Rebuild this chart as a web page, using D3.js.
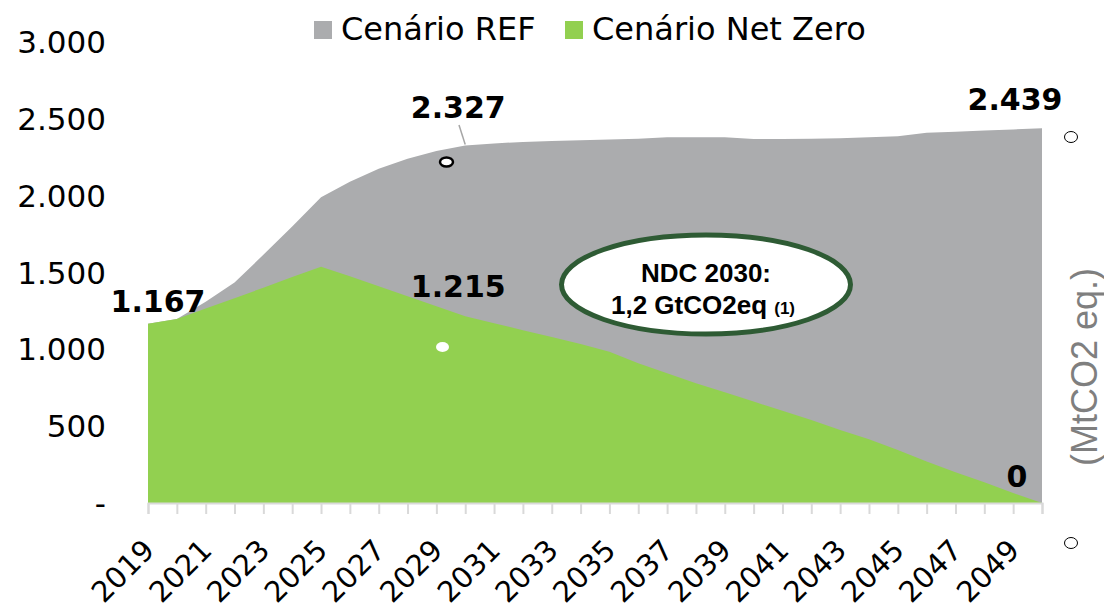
<!DOCTYPE html>
<html>
<head>
<meta charset="utf-8">
<script src="https://cdn.jsdelivr.net/npm/d3@7"></script>
<style>
	body { margin: 0; background: #fff; }
	svg { font-family: 'DejaVu Sans', Verdana, sans-serif; }
</style>
</head>
<body>
<svg id="chart" width="1104" height="604"></svg>
<script>
'use strict';

const years = [2019, 2020, 2021, 2022, 2023, 2024, 2025, 2026, 2027, 2028, 2029, 2030, 2031, 2032, 2033, 2034,
	2035, 2036, 2037, 2038, 2039, 2040, 2041, 2042, 2043, 2044, 2045, 2046, 2047, 2048, 2049, 2050];
const refValues = [1167, 1197, 1310, 1435, 1615, 1800, 1990, 2090, 2175, 2240, 2290, 2327, 2340, 2350, 2355, 2360,
	2365, 2370, 2380, 2380, 2380, 2368, 2368, 2370, 2374, 2380, 2386, 2410, 2416, 2424, 2431, 2439];
const netZeroValues = [1167, 1197, 1265, 1333, 1401, 1470, 1538, 1475, 1410, 1345, 1280, 1215, 1170, 1125, 1080, 1035,
	985, 910, 845, 780, 720, 660, 600, 540, 475, 415, 345, 270, 200, 135, 65, 0];
const xTickLabels = [2019, 2021, 2023, 2025, 2027, 2029, 2031, 2033, 2035, 2037, 2039, 2041, 2043, 2045, 2047, 2049];
const yTicks = [0, 500, 1000, 1500, 2000, 2500, 3000];
const series = [
	{ name: 'Cenário REF', color: '#abacae', values: refValues },
	{ name: 'Cenário Net Zero', color: '#92d050', values: netZeroValues }
];
// labelled points: [series index, year]
const pointLabels = [[0, 2030], [0, 2050], [1, 2019], [1, 2030], [1, 2050]];

const fmt = v => v === 0 ? '0' : d3.format(',')(v).replace(/,/g, '.');
const arial = "'Liberation Sans', Arial, sans-serif";

const svg = d3.select('#chart'),
	x = d3.scaleLinear().domain([2019, 2050]).range([148, 1042]),
	y = d3.scaleLinear().domain([0, 3000]).range([503, 42]);

// areas
series.forEach(s => {
	svg.append('path')
		.datum(years.map((yr, i) => ({ year: yr, value: s.values[i] })))
		.attr('fill', s.color)
		.attr('d', d3.area()
			.x(d => x(d.year))
			.y0(y(0))
			.y1(d => y(d.value)));
});

// x axis
const xAxis = svg.append('g')
	.attr('transform', `translate(0,${y(0)})`)
	.call(d3.axisBottom(x).tickValues(years).tickSize(11).tickFormat(''));
xAxis.select('.domain').attr('stroke', '#d9d9d9').attr('stroke-width', 2);
xAxis.selectAll('.tick line').attr('stroke', '#d9d9d9').attr('stroke-width', 2);

svg.append('g').selectAll('text').data(xTickLabels).enter().append('text')
	.attr('transform', d => `translate(${x(d) + 8},552) rotate(-45)`)
	.attr('text-anchor', 'end')
	.attr('font-size', 29)
	.attr('fill', '#000')
	.text(d => d);

// y axis labels (no line)
svg.append('g').selectAll('text').data(yTicks).enter().append('text')
	.attr('x', 106)
	.attr('y', d => y(d))
	.attr('dy', '0.36em')
	.attr('text-anchor', 'end')
	.attr('font-size', 31)
	.attr('fill', '#000')
	.text(d => d === 0 ? '-' : fmt(d));

// right axis title
svg.append('text')
	.attr('transform', 'translate(1097,367) rotate(-90)')
	.attr('text-anchor', 'middle')
	.style('font-family', arial)
	.attr('font-size', 36)
	.attr('fill', '#7f7f7f')
	.text('(MtCO2 eq.)');

// leader line for 2.327
svg.append('line')
	.attr('x1', 459).attr('y1', 125)
	.attr('x2', x(2030)).attr('y2', y(refValues[11]) - 1)
	.attr('stroke', '#a6a6a6').attr('stroke-width', 1.5);

// data labels
const labelPos = {
	'0-2030': [-7, -27],
	'0-2050': [-27, -18],
	'1-2019': [10, -12],
	'1-2030': [-7, -19],
	'1-2050': [-25, -16]
};
svg.append('g').selectAll('text').data(pointLabels).enter().append('text')
	.attr('x', d => x(d[1]) + labelPos[d.join('-')][0])
	.attr('y', d => y(series[d[0]].values[years.indexOf(d[1])]) + labelPos[d.join('-')][1])
	.attr('text-anchor', 'middle')
	.attr('font-size', 30)
	.attr('font-weight', 'bold')
	.attr('fill', '#000')
	.text(d => fmt(series[d[0]].values[years.indexOf(d[1])]));

// NDC callout
svg.append('ellipse')
	.attr('cx', 706).attr('cy', 284.5)
	.attr('rx', 144.5).attr('ry', 49.5)
	.attr('fill', '#fff')
	.attr('stroke', '#2e5b34')
	.attr('stroke-width', 5);
const ndc = svg.append('g')
	.style('font-family', arial)
	.attr('font-weight', 'bold')
	.attr('text-anchor', 'middle')
	.attr('fill', '#000');
ndc.append('text').attr('x', 706).attr('y', 282).attr('font-size', 26).text('NDC 2030:');
const l2 = ndc.append('text').attr('x', 703).attr('y', 314).attr('font-size', 26);
l2.append('tspan').text('1,2 GtCO2eq ');
l2.append('tspan').attr('font-size', 17).text('(1)');

// small marker ellipses
svg.append('ellipse').attr('cx', 446.5).attr('cy', 162).attr('rx', 6.5).attr('ry', 4.5)
	.attr('fill', '#fff').attr('stroke', '#000').attr('stroke-width', 2.5);
svg.append('ellipse').attr('cx', 442.5).attr('cy', 347).attr('rx', 6.5).attr('ry', 5)
	.attr('fill', '#fff');
[137, 543].forEach(cy => {
	svg.append('ellipse').attr('cx', 1071).attr('cy', cy).attr('rx', 6.5).attr('ry', 5.5)
		.attr('fill', '#fff').attr('stroke', '#000').attr('stroke-width', 1);
});

// legend
const legend = svg.append('g').selectAll('g').data(series).enter().append('g')
	.attr('transform', (d, i) => `translate(${[314, 565][i]},21)`);
legend.append('rect').attr('width', 18).attr('height', 18).attr('fill', d => d.color);
legend.append('text')
	.attr('x', 27).attr('y', 19)
	.attr('font-size', 32)
	.attr('fill', '#000')
	.text(d => d.name);
</script>
</body>
</html>
